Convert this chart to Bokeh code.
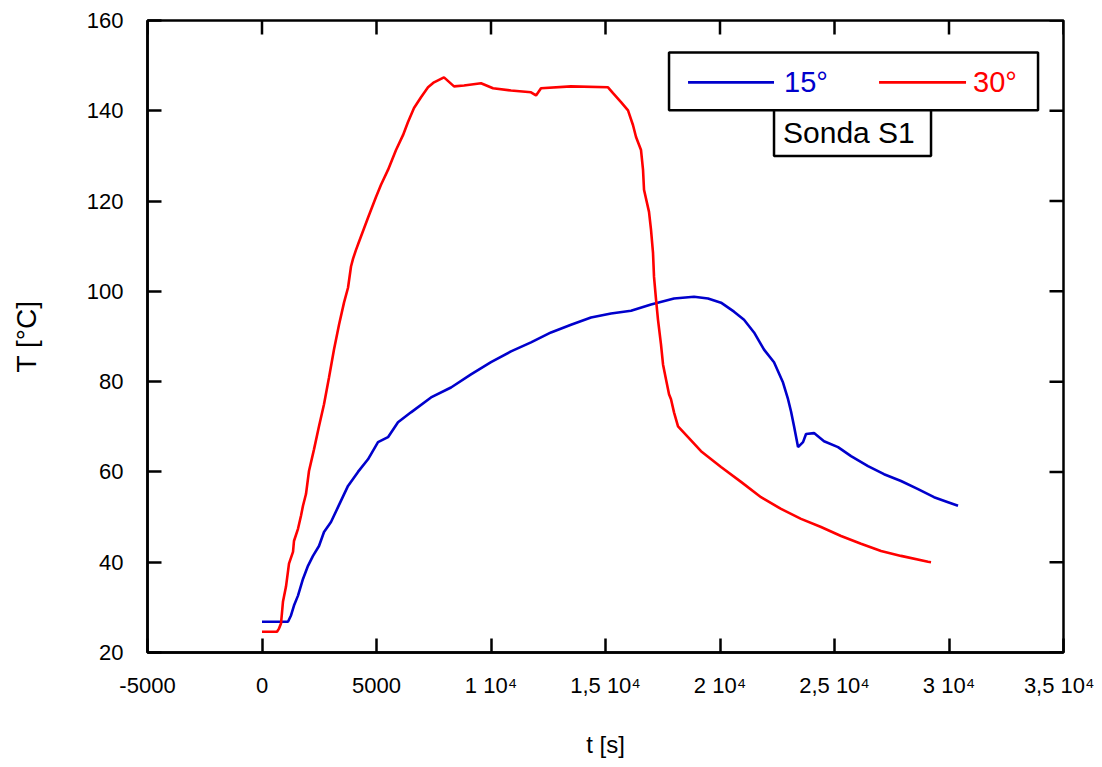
from bokeh.plotting import figure
from bokeh.models import Range1d, FixedTicker, BoxAnnotation, Label
from bokeh.embed import file_html
from bokeh.resources import INLINE

# ---- data ----
t_15 = [0, 1135, 1266, 1397, 1572, 1790, 2009, 2227, 2489, 2708, 3013, 3319, 3756,
        4192, 4629, 5066, 5502, 5939, 6507, 7380, 8254, 9127, 10000, 10874, 11747,
        12621, 13494, 14367, 15241, 16114, 16988, 17992, 18866, 19477, 20045, 20612,
        21049, 21486, 21923, 22359, 22752, 22971, 23102, 23233, 23408, 23626, 23757,
        24106, 24543, 25154, 25722, 26464, 27163, 27905, 28648, 29347, 29958, 30394]
T_15 = [26.8, 26.8, 28.2, 30.4, 32.6, 36.3, 39.2, 41.4, 43.6, 46.7, 48.9, 52.2, 56.9,
        60.0, 62.8, 66.6, 67.7, 71.0, 73.2, 76.5, 78.7, 81.6, 84.3, 86.7, 88.7,
        90.9, 92.6, 94.2, 95.1, 95.7, 97.1, 98.4, 98.8, 98.4, 97.5, 95.5,
        93.7, 90.9, 87.1, 84.3, 79.8, 76.1, 73.4, 70.1, 65.5, 66.6, 68.4,
        68.6, 66.8, 65.5, 63.5, 61.3, 59.5, 58.0, 56.2, 54.4, 53.3, 52.5]

t_30 = [0, 655, 742, 830, 917, 1048, 1179, 1354, 1397, 1572, 1703, 1790, 1921, 2052,
        2271, 2489, 2708, 2926, 3144, 3363, 3581, 3756, 3887, 3974, 4105, 4236, 4629,
        4978, 5197, 5502, 5852, 6157, 6376, 6638, 6944, 7250, 7511, 7948, 8385, 8821,
        9564, 10088, 10874, 11747, 11966, 12184, 13494, 15110, 15328, 15678, 15983,
        16202, 16333, 16551, 16639, 16682, 16900, 16988, 17075, 17119, 17206, 17293,
        17424, 17512, 17643, 17774, 17861, 17992, 18167, 18604, 19171, 20045, 20918,
        21791, 22665, 23538, 24412, 25285, 26158, 27032, 27905, 29084, 29215]
T_30 = [24.6, 24.6, 25.3, 26.4, 31.3, 34.6, 39.7, 42.3, 44.7, 47.4, 50.3, 52.5, 55.1, 60.2,
        65.0, 70.1, 75.0, 80.9, 87.1, 92.6, 97.5, 100.8, 105.5, 107.2, 109.2, 111.0, 116.3,
        120.9, 123.6, 126.9, 131.3, 134.6, 137.5, 140.6, 143.0, 145.2, 146.3, 147.4, 145.4, 145.6,
        146.1, 145.0, 144.5, 144.1, 143.4, 145.0, 145.4, 145.2, 143.9, 141.9, 140.1,
        136.8, 134.2, 131.3, 126.9, 122.5, 117.6, 113.6, 108.5, 103.2, 98.2, 93.7,
        88.2, 83.8, 80.5, 77.2, 76.1, 73.2, 70.1, 67.7, 64.6, 61.1, 57.8,
        54.4, 51.8, 49.6, 47.8, 45.8, 44.1, 42.5, 41.4, 40.1, 40.0]

series_names = ["15°", "30°"]
series_colors = ["#0000CC", "#FF0000"]
probe_label = "Sonda S1"

x_ticks = [-5000, 0, 5000, 10000, 15000, 20000, 25000, 30000, 35000]
x_tick_labels = ["-5000", "0", "5000", "1 10\u2074", "1,5 10\u2074", "2 10\u2074",
                 "2,5 10\u2074", "3 10\u2074", "3,5 10\u2074"]
y_ticks = [20, 40, 60, 80, 100, 120, 140, 160]

X_MIN, X_MAX = -5000, 35000
Y_MIN, Y_MAX = 20, 160

FONT = "Liberation Sans"

p = figure(width=1094, height=760, output_backend="svg", toolbar_location=None,
           x_range=Range1d(X_MIN, X_MAX), y_range=Range1d(Y_MIN, Y_MAX),
           min_border_left=147, min_border_right=31, min_border_top=20, min_border_bottom=106,
           x_axis_label="t [s]", y_axis_label="T [°C]")
p.grid.visible = False
p.outline_line_color = "black"
p.outline_line_width = 2.5
p.background_fill_color = "white"
p.border_fill_color = "white"

for ax in p.axis:
    ax.axis_line_width = 2.5
    ax.major_tick_in = 14
    ax.major_tick_out = 0
    ax.major_tick_line_width = 2.5
    ax.minor_tick_line_color = None
    ax.major_label_text_font = FONT
    ax.major_label_text_font_size = "22px"
    ax.major_label_text_color = "black"
    ax.axis_label_text_font = FONT
    ax.axis_label_text_font_style = "normal"
    ax.axis_label_text_color = "black"

p.xaxis.ticker = FixedTicker(ticks=x_ticks)
p.xaxis.major_label_overrides = {t: s for t, s in zip(x_ticks, x_tick_labels)}
p.yaxis.ticker = FixedTicker(ticks=y_ticks)

p.xaxis.major_label_standoff = 20
p.xaxis.axis_label_text_font_size = "24px"
p.xaxis.axis_label_standoff = 30
p.yaxis.major_label_standoff = 24
p.yaxis.axis_label_text_font_size = "28px"
p.yaxis.axis_label_standoff = 42

# mirrored inward ticks on top and right frame edges (tick length in data units ~14px)
tick_dy = 14 * (Y_MAX - Y_MIN) / 634
tick_dx = 14 * (X_MAX - X_MIN) / 916
p.segment(x0=x_ticks, y0=[Y_MAX] * len(x_ticks), x1=x_ticks, y1=[Y_MAX - tick_dy] * len(x_ticks),
          line_color="black", line_width=2.5)
p.segment(x0=[X_MAX] * len(y_ticks), y0=y_ticks, x1=[X_MAX - tick_dx] * len(y_ticks), y1=y_ticks,
          line_color="black", line_width=2.5)

p.line(t_15, T_15, line_color=series_colors[0], line_width=2.6)
p.line(t_30, T_30, line_color=series_colors[1], line_width=2.6)

# legend boxes (decoration), in data coordinates
p.add_layout(BoxAnnotation(left=17774, right=33888, bottom=140.1, top=152.9, level="underlay",
                           fill_color="white", fill_alpha=1, line_color="black",
                           line_alpha=1, line_width=2.5))
p.add_layout(BoxAnnotation(left=22359, right=29215, bottom=130.0, top=140.1, level="underlay",
                           fill_color="white", fill_alpha=1, line_color="black",
                           line_alpha=1, line_width=2.5))
p.line([18604, 22359], [146.3, 146.3], line_color=series_colors[0], line_width=2.6)
p.line([26945, 30744], [146.3, 146.3], line_color=series_colors[1], line_width=2.6)
p.add_layout(Label(x=22796, y=146.3, text=series_names[0], text_color=series_colors[0],
                   text_font=FONT, text_font_size="29px", text_baseline="middle"))
p.add_layout(Label(x=31050, y=146.3, text=series_names[1], text_color=series_colors[1],
                   text_font=FONT, text_font_size="29px", text_baseline="middle"))
p.add_layout(Label(x=22752, y=135.2, text=probe_label, text_color="black",
                   text_font=FONT, text_font_size="30px", text_baseline="middle"))

open("out.html", "w").write(file_html(p, INLINE))
